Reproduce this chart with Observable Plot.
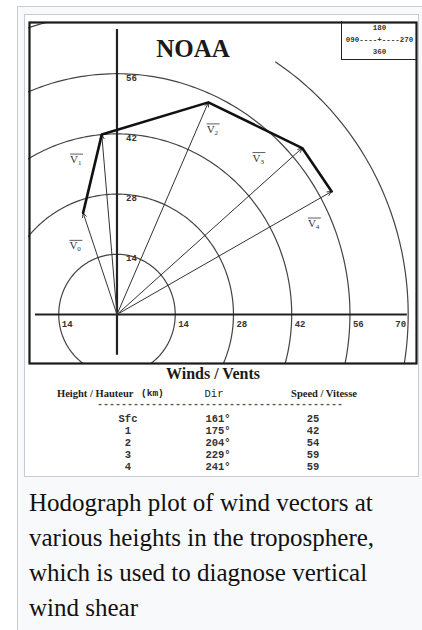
<!DOCTYPE html>
<html><head><meta charset="utf-8">
<script src="https://cdn.jsdelivr.net/npm/d3@7"></script>
<script src="https://cdn.jsdelivr.net/npm/@observablehq/plot@0.6"></script>
<style>
body{margin:0;background:#fff;width:422px;height:630px;overflow:hidden;position:relative;font-family:"Liberation Serif",serif;color:#222;}
.abs{position:absolute;white-space:pre;}
#thumb{left:17px;top:6px;width:420px;height:640px;border:1px solid #c8ccd1;background:#f8f9fa;box-sizing:border-box;}
#img{left:24px;top:14px;width:395px;height:463px;border:1px solid #c8ccd1;background:#fff;box-sizing:border-box;}
#chart{left:28px;top:21px;}
#noaa{left:193px;top:36px;transform:translateX(-50%);font:bold 25px/25px "Liberation Serif",serif;color:#1a1a1a;}
#compass{left:341px;top:21px;width:76px;height:39px;border-left:1.5px solid #222;border-bottom:1.5px solid #222;box-sizing:border-box;font:bold 7.5px/12px "Liberation Mono",monospace;text-align:center;color:#333;padding-top:1px;}
.c{transform:translateX(-50%);}
#caption{left:29px;top:485px;font:25px/35px "Liberation Serif",serif;color:#111;}
</style></head>
<body>
<div id="thumb" class="abs"></div>
<div id="img" class="abs"></div>
<div id="chart" class="abs"></div>
<div id="noaa" class="abs">NOAA</div>
<div id="compass" class="abs"></div>
<div id="table"></div>
<div id="caption" class="abs">Hodograph plot of wind vectors at
various heights in the troposphere,
which is used to diagnose vertical
wind shear</div>
<script>
// ---- data ----
const heights = ["Sfc", "1", "2", "3", "4"];
const directions = [161, 175, 204, 229, 241];
const speeds = [25, 42, 54, 59, 59];
const vectorNames = ["V0", "V1", "V2", "V3", "V4"];
const ringValues = [14, 28, 42, 56, 70];
const xTickLabels = [-14, 14, 28, 42, 56];
const xEndTickLabels = [70];
const yTickLabels = [14, 28, 42, 56];
const compassTop = "180", compassLeft = "090", compassRight = "270", compassBottom = "360";

// ---- layout (not data) ----
const labelDx = [-8, -26, 4, -44, -18];
const labelDy = [33, 25, 27, 10, 32];

const rad = Math.PI / 180;
const vectors = directions.map((d, i) => ({
  name: vectorNames[i],
  u: -speeds[i] * Math.sin(d * rad),
  v: -speeds[i] * Math.cos(d * rad)
}));

const ringPts = [];
for (const r of ringValues) {
  const [a0, a1] = r === 70 ? [33, 346] : [0, 360];
  for (let a = a0; a <= a1; a += 1) ringPts.push({r, u: r * Math.sin(a * rad), v: r * Math.cos(a * rad)});
}

const monoTick = {fontFamily: "Liberation Mono, monospace", fontWeight: "bold", fontSize: 9, fill: "#333"};

const plot = Plot.plot({
  width: 389, height: 343, margin: 0,
  x: {domain: [-21.27, 72.24], axis: null},
  y: {domain: [-11.63, 68.14], axis: null},
  style: {background: "transparent", overflow: "visible"},
  marks: [
    Plot.line(ringPts, {x: "u", y: "v", z: "r", stroke: "#444", strokeWidth: 1.2, clip: true}),
    Plot.ruleX([0], {y1: -9.5, y2: 66.3, stroke: "#222", strokeWidth: 2.2}),
    Plot.ruleY([0], {x1: -19.6, x2: 69.8, stroke: "#222", strokeWidth: 2.2}),
    Plot.arrow(vectors, {x1: 0, y1: 0, x2: "u", y2: "v", stroke: "#333", strokeWidth: 1, headLength: 7, headAngle: 50}),
    Plot.line(vectors, {x: "u", y: "v", stroke: "#111", strokeWidth: 2.6}),
    Plot.text(xTickLabels, {x: d => d, y: 0, text: d => String(Math.abs(d)), dx: 3, dy: 10, textAnchor: "start", ...monoTick}),
    Plot.text(xEndTickLabels, {x: d => d, y: 0, text: d => String(d), dx: -2, dy: 10, textAnchor: "end", ...monoTick}),
    Plot.text(yTickLabels, {x: 0, y: d => d, text: d => String(d), dx: 9, dy: 4, textAnchor: "start", ...monoTick}),
    ...vectors.map((d, i) => Plot.text([d], {x: "u", y: "v", text: "name", dx: labelDx[i], dy: labelDy[i],
      ariaDescription: "vlabel", fontFamily: "Liberation Serif, serif", fontSize: 11, fill: "#333"})),
    Plot.frame({stroke: "#1a1a1a", strokeWidth: 2.2, inset: 1})
  ]
});
document.getElementById("chart").append(plot);

// vector notation: subscript + overline
const ns = "http://www.w3.org/2000/svg";
plot.querySelectorAll('g[aria-description="vlabel"] text').forEach(t => {
  const s = t.textContent; t.textContent = "";
  const a = document.createElementNS(ns, "tspan"); a.textContent = s[0];
  const b = document.createElementNS(ns, "tspan"); b.textContent = s.slice(1);
  b.setAttribute("font-size", "7"); b.setAttribute("dy", "2");
  t.append(a, b);
  const bb = t.getBBox();
  const g = document.createElementNS(ns, "g");
  const tr = t.getAttribute("transform"); if (tr) g.setAttribute("transform", tr);
  const l = document.createElementNS(ns, "line");
  l.setAttribute("x1", bb.x); l.setAttribute("x2", bb.x + bb.width + 1);
  l.setAttribute("y1", bb.y + 1); l.setAttribute("y2", bb.y + 1);
  l.setAttribute("stroke", "#333"); l.setAttribute("stroke-width", "0.8");
  g.append(l); t.parentNode.append(g);
});

// compass inset
document.getElementById("compass").textContent = `${compassTop}\n${compassLeft}----+----${compassRight}\n${compassBottom}`;

// table
const T = document.getElementById("table");
function put(text, left, top, style, center) {
  const d = document.createElement("div");
  d.className = "abs" + (center ? " c" : "");
  d.style.left = left + "px"; d.style.top = top + "px";
  d.style.cssText += style;
  d.textContent = text; T.append(d);
}
put("Winds / Vents", 213, 366, "font:bold 16px/16px 'Liberation Serif',serif;color:#1a1a1a;", true);
put("Height / Hauteur", 57, 388, "font:bold 10.5px/12px 'Liberation Serif',serif;", false);
put("(km)", 141, 388, "font:bold 9.5px/12px 'Liberation Mono',monospace;", false);
put("Dir", 214, 388, "font:10.5px/12px 'Liberation Mono',monospace;", true);
put("Speed / Vitesse", 324, 388, "font:bold 10.5px/12px 'Liberation Serif',serif;", true);
put("-".repeat(41), 220, 399, "font:bold 10px/12px 'Liberation Mono',monospace;color:#555;", true);
heights.forEach((h, i) => {
  const top = 413 + i * 12;
  const st = "font:bold 10.5px/12px 'Liberation Mono',monospace;color:#333;";
  put(h, 128, top, st, true);
  put(directions[i] + "°", 218, top, st, true);
  put(String(speeds[i]), 313, top, st, true);
});
</script>
</body></html>
